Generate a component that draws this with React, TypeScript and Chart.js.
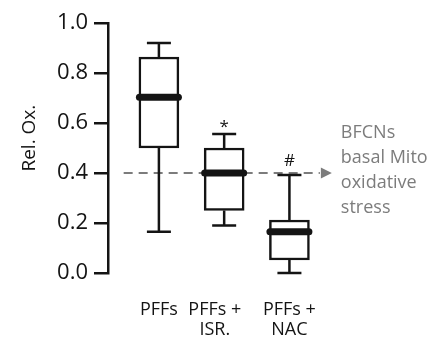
import React, { useEffect, useRef } from "react";
import { Chart, registerables } from "chart.js";

Chart.register(...registerables);

// ---- data ----
const categories: string[][] = [["PFFs"], ["PFFs +    ", "ISR.    "], ["PFFs +", "NAC"]];
const groupPositions = [0, 1, 2];
const whiskerMin = [0.165, 0.19, 0.0];
const q1 = [0.5, 0.25, 0.052];
const medians = [0.703, 0.4, 0.165];
const q3 = [0.864, 0.5, 0.212];
const whiskerMax = [0.92, 0.556, 0.392];
const markers = ["", "*", "#"];
const yTicks = [0, 0.2, 0.4, 0.6, 0.8, 1.0];
const referenceValue = 0.4;
const referenceStart = -0.54;
const referenceEnd = 2.65;
const referenceLabel = ["BFCNs", "basal Mito", "oxidative", "stress"];
const yTitle = "    Rel. Ox.";

const FONT = "'Open Sans', 'Noto Sans', sans-serif";
const INK = "#141414";
const GREY = "#7c7c7c";

const boxPlotExtras = {
  id: "boxPlotExtras",
  beforeDatasetsDraw(chart: any) {
    const { ctx, scales } = chart;
    const x = scales.x;
    const y = scales.y;
    const yRef = y.getPixelForValue(referenceValue);
    const x0 = x.getPixelForValue(referenceStart);
    const x1 = x.getPixelForValue(referenceEnd);
    ctx.save();
    ctx.strokeStyle = GREY;
    ctx.lineWidth = 2;
    ctx.setLineDash([9, 6]);
    ctx.beginPath();
    ctx.moveTo(x0, yRef);
    ctx.lineTo(x1 - 12, yRef);
    ctx.stroke();
    ctx.setLineDash([]);
    ctx.fillStyle = GREY;
    ctx.beginPath();
    ctx.moveTo(x1, yRef);
    ctx.lineTo(x1 - 11, yRef - 5.5);
    ctx.lineTo(x1 - 11, yRef + 5.5);
    ctx.closePath();
    ctx.fill();
    ctx.font = `18px ${FONT}`;
    ctx.textAlign = "left";
    ctx.textBaseline = "middle";
    referenceLabel.forEach((t, i) => {
      ctx.fillText(t, x1 + 9, yRef - 40 + i * 25);
    });
    ctx.restore();
  },
  afterDatasetsDraw(chart: any) {
    const { ctx, scales } = chart;
    const x = scales.x;
    const y = scales.y;
    ctx.save();
    ctx.strokeStyle = INK;
    ctx.fillStyle = INK;
    groupPositions.forEach((g, i) => {
      const cx = x.getPixelForValue(g);
      const yMin = y.getPixelForValue(whiskerMin[i]);
      const yMax = y.getPixelForValue(whiskerMax[i]);
      const yQ1 = y.getPixelForValue(q1[i]);
      const yQ3 = y.getPixelForValue(q3[i]);
      const yMed = y.getPixelForValue(medians[i]);
      ctx.lineWidth = 2.5;
      ctx.lineCap = "butt";
      ctx.beginPath();
      ctx.moveTo(cx, yQ3);
      ctx.lineTo(cx, yMax);
      ctx.moveTo(cx, yQ1);
      ctx.lineTo(cx, yMin);
      ctx.stroke();
      ctx.beginPath();
      ctx.moveTo(cx - 12, yMax);
      ctx.lineTo(cx + 12, yMax);
      ctx.moveTo(cx - 12, yMin);
      ctx.lineTo(cx + 12, yMin);
      ctx.stroke();
      ctx.lineWidth = 7;
      ctx.lineCap = "round";
      ctx.beginPath();
      ctx.moveTo(cx - 19.5, yMed);
      ctx.lineTo(cx + 19.5, yMed);
      ctx.stroke();
      if (markers[i]) {
        ctx.font = `17px ${FONT}`;
        ctx.textAlign = "center";
        ctx.textBaseline = "alphabetic";
        const gap = markers[i] === "*" ? 2 : 9;
        ctx.fillText(markers[i], cx, yMax - gap);
      }
    });
    ctx.restore();
  },
};

export default function App() {
  const canvasRef = useRef<HTMLCanvasElement | null>(null);

  useEffect(() => {
    if (!canvasRef.current) return;
    Chart.defaults.font.family = FONT;
    const chart = new Chart(canvasRef.current, {
      type: "bar",
      data: {
        datasets: [
          {
            data: groupPositions.map((g, i) => ({ x: g, y: [q1[i], q3[i]] })) as any,
            backgroundColor: "#ffffff",
            borderColor: INK,
            borderWidth: 2.5,
            borderSkipped: false,
            barThickness: 40,
          },
        ],
      },
      options: {
        animation: false,
        responsive: true,
        maintainAspectRatio: false,
        layout: { padding: { top: 23, right: 10, bottom: 0, left: 0 } },
        plugins: { legend: { display: false }, tooltip: { enabled: false } },
        scales: {
          x: {
            type: "linear",
            min: -0.78,
            max: 4.2,
            offset: false,
            afterBuildTicks: (s: any) => {
              s.ticks = groupPositions.map((v) => ({ value: v }));
            },
            afterFit: (s: any) => {
              s.height = 68;
            },
            border: { display: false },
            grid: { display: false },
            ticks: {
              color: INK,
              font: { size: 18, family: FONT, lineHeight: 1.1 },
              padding: 19,
              maxRotation: 0,
              autoSkip: false,
              callback: (_v: any, i: number) => categories[i],
            },
          },
          y: {
            min: 0,
            max: 1,
            afterBuildTicks: (s: any) => {
              s.ticks = yTicks.map((v) => ({ value: v }));
            },
            afterFit: (s: any) => {
              s.width = 108;
            },
            border: { display: true, color: INK, width: 2.5 },
            grid: {
              drawOnChartArea: false,
              drawTicks: true,
              tickLength: 14,
              tickColor: INK,
              lineWidth: 2.5,
            },
            ticks: {
              color: INK,
              font: { size: 22, family: FONT },
              padding: 6,
              callback: (v: any) => Number(v).toFixed(1),
            },
            title: {
              display: true,
              text: yTitle,
              color: INK,
              font: { size: 19, family: FONT },
              padding: { top: 18, bottom: 0 },
            },
          },
        },
      },
      plugins: [boxPlotExtras],
    });
    return () => chart.destroy();
  }, []);

  return (
    <div style={{ position: "fixed", left: 0, top: 0, width: 443, height: 341, background: "#fff" }}>
      <canvas ref={canvasRef} />
    </div>
  );
}
